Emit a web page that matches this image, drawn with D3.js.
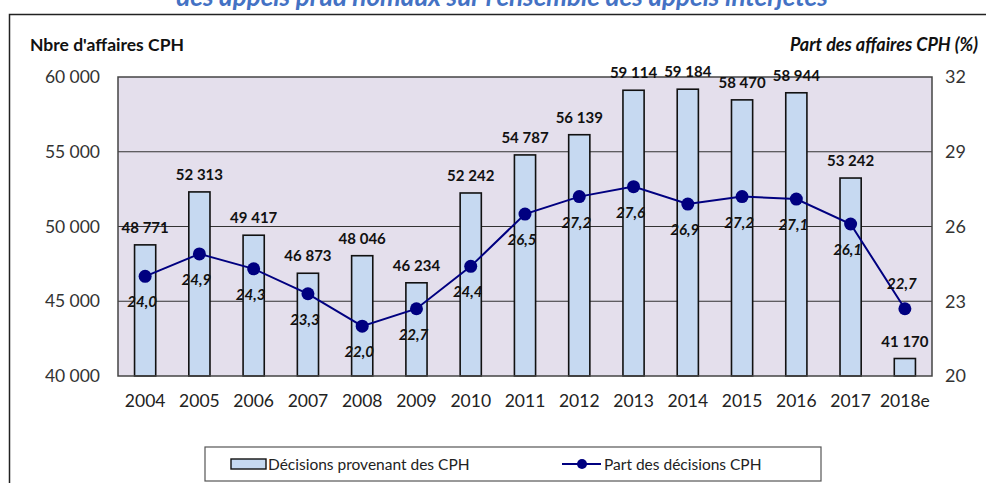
<!DOCTYPE html>
<html>
<head>
<meta charset="utf-8">
<script src="https://cdn.jsdelivr.net/npm/d3@7"></script>
<style>
body { margin: 0; background: #fff; }
text { font-family: Lato, "Open Sans", sans-serif; }
</style>
</head>
<body>
<div id="chart"></div>
<script>
var years = ["2004","2005","2006","2007","2008","2009","2010","2011","2012","2013","2014","2015","2016","2017","2018e"];
var decisions = [48771,52313,49417,46873,48046,46234,52242,54787,56139,59114,59184,58470,58944,53242,41170];
var parts = [24.0,24.9,24.3,23.3,22.0,22.7,24.4,26.5,27.2,27.6,26.9,27.2,27.1,26.1,22.7];
var leftTicks = [40000,45000,50000,55000,60000];
var rightTicks = [20,23,26,29,32];

var svgWidth = 986, svgHeight = 483;
var margin = {top: 77, left: 118, right: 54, bottom: 107};
var width = svgWidth - margin.left - margin.right;
var height = svgHeight - margin.top - margin.bottom;

var svg = d3.select("#chart").append("svg").attr("width", svgWidth).attr("height", svgHeight);

// frame + cut title
svg.append("text").attr("x", 502).attr("y", 6).attr("text-anchor", "middle")
    .attr("font-size", "26px").attr("font-weight", "bold").attr("font-style", "italic")
    .attr("fill", "#4472c4").text("des appels prud'homaux sur l'ensemble des appels interjetés");
svg.append("path").attr("d", "M9.5,483 V14.5 H986").attr("fill", "none").attr("stroke", "#222").attr("stroke-width", 1.5);

svg.append("text").attr("x", 30).attr("y", 51).attr("font-size", "17.5px").attr("font-weight", "bold")
    .attr("fill", "#111").text("Nbre d'affaires CPH");
svg.append("text").attr("x", 978).attr("y", 51).attr("text-anchor", "end").attr("font-size", "18px")
    .attr("font-weight", "bold").attr("font-style", "italic").attr("fill", "#111").text("Part des affaires CPH (%)");

var chartGroup = svg.append("g").attr("transform", `translate(${margin.left},${margin.top})`);

var xScale = d3.scaleBand().domain(years).range([0, width]).paddingInner(0.61).paddingOuter(0.305);
var yLeft = d3.scaleLinear().domain([40000, 60000]).range([height, 0]);
var yRight = d3.scaleLinear().domain([20, 32]).range([height, 0]);

chartGroup.append("rect").attr("width", width).attr("height", height).attr("fill", "#e4dfec");

var fmt = function(v){ return d3.format(",")(v).replace(/,/g, "\u202f"); };

chartGroup.selectAll(".grid").data(leftTicks.slice(1, 4)).enter().append("line")
    .attr("x1", 0).attr("x2", width).attr("y1", d => yLeft(d)).attr("y2", d => yLeft(d))
    .attr("stroke", "#333").attr("stroke-width", 1);

var leftAxis = d3.axisLeft(yLeft).tickValues(leftTicks).tickSize(0).tickPadding(18).tickFormat(fmt);
var gl = chartGroup.append("g").call(leftAxis);
gl.select(".domain").remove();
gl.selectAll("text").attr("font-size", "17.5px").attr("fill", "#333").attr("font-family", "Lato, sans-serif");

var rightAxis = d3.axisRight(yRight).tickValues(rightTicks).tickSize(0).tickPadding(13).tickFormat(d3.format("d"));
var gr = chartGroup.append("g").attr("transform", `translate(${width},0)`).call(rightAxis);
gr.select(".domain").remove();
gr.selectAll("text").attr("font-size", "18px").attr("fill", "#333").attr("font-family", "Lato, sans-serif");

var bottomAxis = d3.axisBottom(xScale).tickSize(0).tickPadding(19);
var gb = chartGroup.append("g").attr("transform", `translate(0,${height})`).call(bottomAxis);
gb.select(".domain").remove();
gb.selectAll("text").attr("font-size", "17.5px").attr("fill", "#222").attr("font-family", "Lato, sans-serif");

chartGroup.selectAll(".bar").data(decisions).enter().append("rect")
    .attr("x", (d, i) => xScale(years[i])).attr("y", d => yLeft(d))
    .attr("width", xScale.bandwidth()).attr("height", d => height - yLeft(d))
    .attr("fill", "#c6d9f1").attr("stroke", "#111").attr("stroke-width", 1.6);

chartGroup.append("rect").attr("width", width).attr("height", height).attr("fill", "none")
    .attr("stroke", "#444").attr("stroke-width", 1.5);

chartGroup.selectAll(".barlabel").data(decisions).enter().append("text")
    .attr("x", (d, i) => xScale(years[i]) + xScale.bandwidth() / 2).attr("y", d => yLeft(d) - 12)
    .attr("text-anchor", "middle").attr("font-size", "15px").attr("font-weight", "bold").attr("fill", "#111")
    .text(d => fmt(d));

var cx = function(i){ return xScale(years[i]) + xScale.bandwidth() / 2; };
var line = d3.line().x((d, i) => cx(i)).y(d => yRight(d));
chartGroup.append("path").datum(parts).attr("d", line).attr("fill", "none").attr("stroke", "#000080").attr("stroke-width", 2);
chartGroup.selectAll(".pt").data(parts).enter().append("circle")
    .attr("cx", (d, i) => cx(i)).attr("cy", d => yRight(d)).attr("r", 6.5).attr("fill", "#000080");

var last = parts.length - 1;
chartGroup.selectAll(".ptlabel").data(parts).enter().append("text")
    .attr("x", (d, i) => cx(i) - 3).attr("y", (d, i) => i === last ? yRight(d) - 20 : yRight(d) + 31)
    .attr("text-anchor", "middle").attr("font-size", "15px").attr("font-weight", "bold").attr("font-style", "italic")
    .attr("fill", "#111").text(d => d3.format(".1f")(d).replace(".", ","));

// legend
var legend = svg.append("g").attr("transform", "translate(205,447)");
legend.append("rect").attr("width", 616).attr("height", 34).attr("fill", "#fff").attr("stroke", "#555").attr("stroke-width", 1.2);
legend.append("rect").attr("x", 26).attr("y", 12).attr("width", 35).attr("height", 10)
    .attr("fill", "#c6d9f1").attr("stroke", "#111").attr("stroke-width", 1.4);
legend.append("text").attr("x", 63).attr("y", 23).attr("font-size", "15.5px").attr("fill", "#222").text("Décisions provenant des CPH");
legend.append("line").attr("x1", 357).attr("x2", 396).attr("y1", 17).attr("y2", 17).attr("stroke", "#000080").attr("stroke-width", 2);
legend.append("circle").attr("cx", 377).attr("cy", 17).attr("r", 5).attr("fill", "#000080");
legend.append("text").attr("x", 399).attr("y", 23).attr("font-size", "15.5px").attr("fill", "#222").text("Part des décisions CPH");
</script>
</body>
</html>
